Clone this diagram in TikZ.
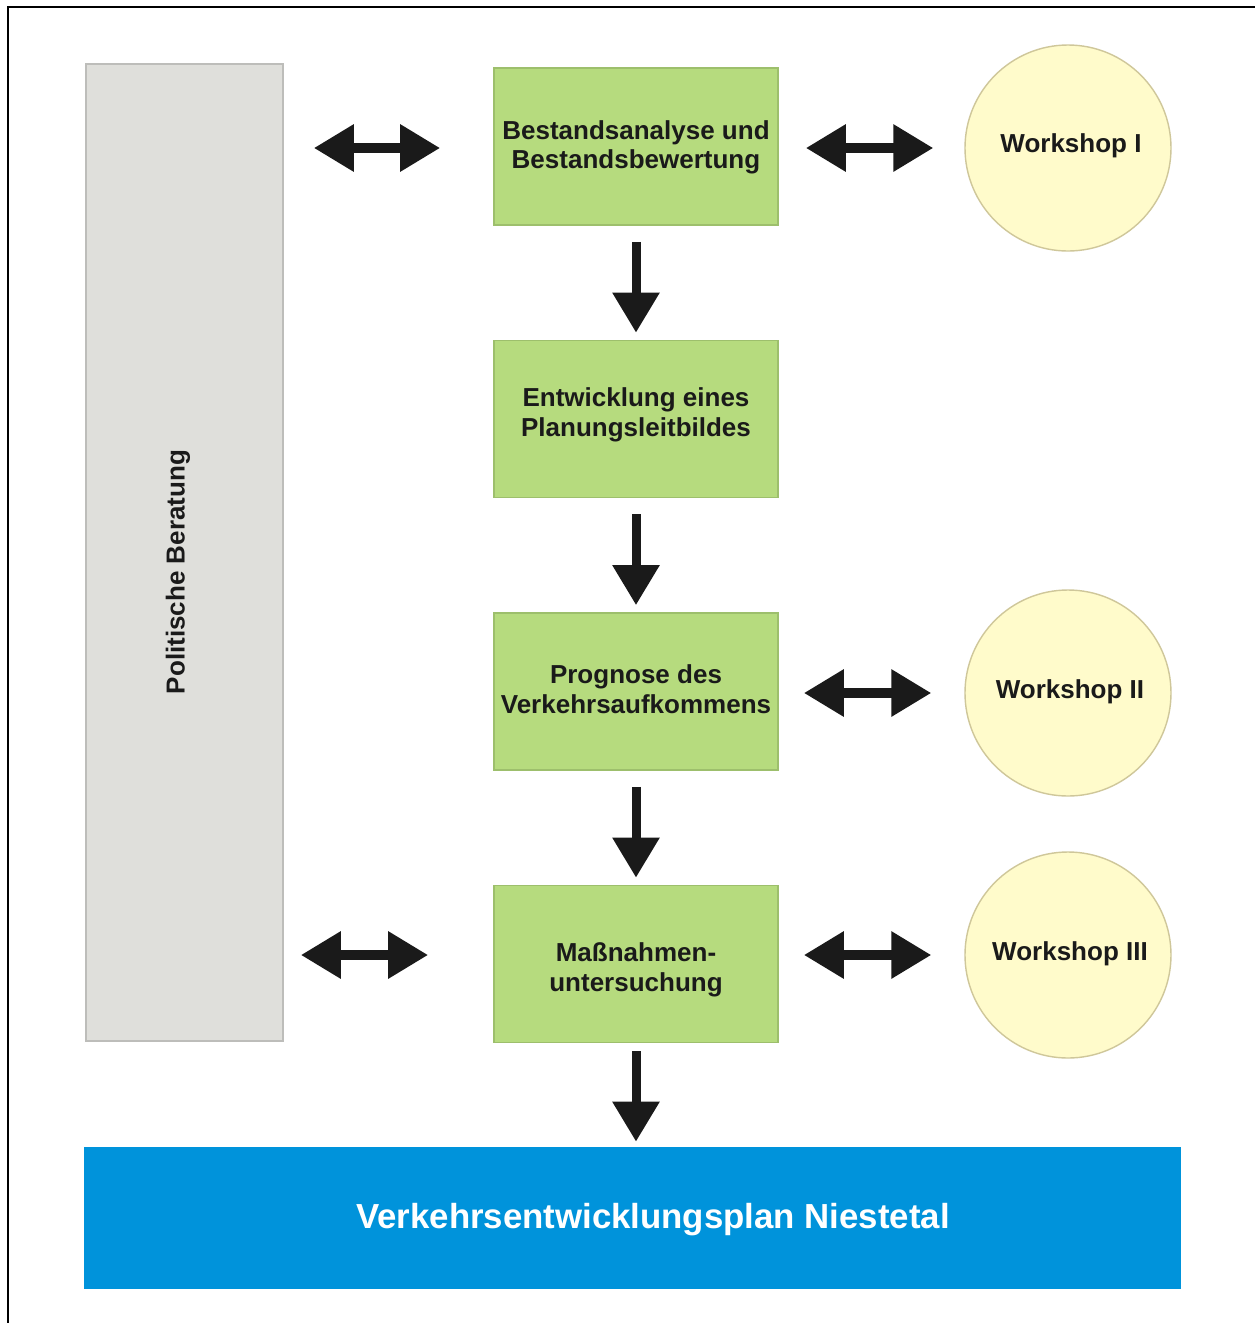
\documentclass[tikz,border=0pt]{standalone}
\usepackage{fontspec}
\setmainfont{Liberation Sans}
\usetikzlibrary{arrows.meta}
\definecolor{grayfill}{HTML}{DFDFDB}
\definecolor{grayline}{HTML}{BDBDBA}
\definecolor{greenfill}{HTML}{B6DB7E}
\definecolor{greenline}{HTML}{9DBF6C}
\definecolor{yellowfill}{HTML}{FFFBCB}
\definecolor{yellowline}{HTML}{CFC79A}
\definecolor{bluefill}{HTML}{0093DB}
\definecolor{darktext}{HTML}{1A1A1A}
\newcommand{\twolines}[3]{\raisebox{#1}[\height][\depth]{\begin{tabular}{@{}c@{}}#2\\#3\end{tabular}}}
\newcommand{\oneline}[2]{\raisebox{#1}[\height][\depth]{#2}}
\tikzset{
  greenbox/.style={draw=greenline, line width=1pt, fill=greenfill, minimum width=56.8mm, minimum height=31.4mm, inner sep=0pt, align=center, font=\fontsize{14.8}{17}\selectfont\bfseries, text=darktext},
  wscircle/.style={circle, draw=yellowline, line width=0.8pt, fill=yellowfill, minimum size=41.2mm, inner sep=0pt, font=\fontsize{14.8}{17}\selectfont\bfseries, text=darktext},
  bigarrow/.style={line width=1.8mm, draw=darktext, -{Triangle[length=8mm,width=9mm]}},
  dblarrow/.style={line width=1.9mm, draw=darktext, {Triangle[length=8mm,width=9mm]}-{Triangle[length=8mm,width=9mm]}},
}
\begin{document}
\begin{tikzpicture}[x=0.2mm,y=-0.2mm]
\useasboundingbox (0,0) rectangle (1255,1323);
\fill[white] (0,0) rectangle (1255,1323);
% frame
\draw[line width=0.5mm, black] (8,1323) -- (8,7) -- (1255,7);
% left gray column
\node[draw=grayline, line width=1pt, fill=grayfill, minimum width=39.4mm, minimum height=195.4mm, inner sep=0pt] (pol) at (184.5,552.5) {};
\node[rotate=90, font=\fontsize{14.8}{17}\selectfont\bfseries, text=darktext] (poltext) at (178,572) {Politische Beratung};
% green boxes
\node[greenbox] (b1) at (636,146.5) {\twolines{-0.3mm}{Bestandsanalyse und}{Bestandsbewertung}};
\node[greenbox] (b2) at (636,419) {\twolines{0.7mm}{Entwicklung eines}{Planungsleitbildes}};
\node[greenbox] (b3) at (636,691.5) {\twolines{-0.2mm}{Prognose des}{Verkehrsaufkommens}};
\node[greenbox] (b4) at (636,964) {\twolines{-1.3mm}{Maßnahmen-}{untersuchung}};
% circles
\node[wscircle, text depth=0pt] (w1) at (1068,148) {\oneline{1mm}{\hspace*{1.2mm}Workshop I}};
\node[wscircle, text depth=0pt] (w2) at (1068,693) {\oneline{0.8mm}{\hspace*{0.8mm}Workshop II}};
\node[wscircle, text depth=0pt] (w3) at (1068,955) {\oneline{0.8mm}{\hspace*{0.8mm}Workshop III}};
% bottom blue bar
\node[fill=bluefill, minimum width=219.4mm, minimum height=28.4mm, inner sep=0pt] (plan) at (632.5,1218) {};
\node[text=white, font=\fontsize{19.8}{23}\selectfont\bfseries] (plantext) at (653,1220) {Verkehrsentwicklungsplan Niestetal};
% down arrows
\draw[bigarrow, shorten <=3.2mm, shorten >=1.4mm] (b1.south) -- (b2.north);
\draw[bigarrow, shorten <=3.2mm, shorten >=1.4mm] (b2.south) -- (b3.north);
\draw[bigarrow, shorten <=3.2mm, shorten >=1.4mm] (b3.south) -- (b4.north);
\draw[bigarrow, shorten <=1.6mm, shorten >=1.0mm] (b4.south) -- (b4.south |- plan.north);
% double arrows
\draw[dblarrow, shorten <=6mm, shorten >=10.6mm] (pol.east |- w1.west) -- (b1.west |- w1.west);
\draw[dblarrow, shorten <=5.4mm, shorten >=6.2mm] (b1.east |- w1.west) -- (w1.west);
\draw[dblarrow, shorten <=5mm, shorten >=6.6mm] (b3.east |- w2.west) -- (w2.west);
\draw[dblarrow, shorten <=3.4mm, shorten >=13mm] (pol.east |- w3.west) -- (b4.west |- w3.west);
\draw[dblarrow, shorten <=5mm, shorten >=6.6mm] (b4.east |- w3.west) -- (w3.west);
\end{tikzpicture}
\end{document}
